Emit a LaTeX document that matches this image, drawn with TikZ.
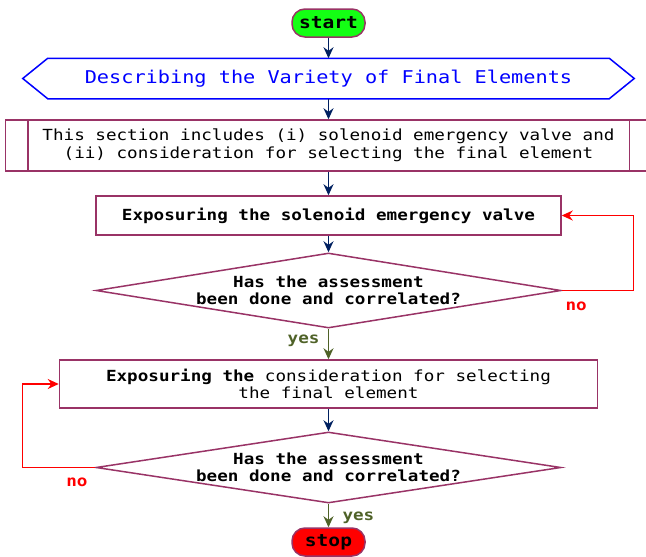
\documentclass[tikz,border=0pt]{standalone}
\usepackage{fontspec}
\newfontfamily\flowfont{DejaVu Sans Mono}[FakeStretch=1.15]
\usetikzlibrary{shapes.geometric,arrows.meta,positioning}
\definecolor{boxborder}{RGB}{153,51,102}
\definecolor{arrownavy}{RGB}{0,32,96}
\definecolor{yesgreen}{RGB}{79,98,40}
\definecolor{termgreen}{RGB}{20,255,20}
\newcommand{\smallfont}{\flowfont\fontsize{15.3}{17.5}\selectfont}
\newcommand{\bigfont}{\flowfont\fontsize{17.6}{20}\selectfont}

\begin{document}
\begin{tikzpicture}[x=1pt,y=1pt,>={Stealth[length=11pt,width=10pt]},line width=1.5pt,font=\smallfont,
  term/.style={rectangle,rounded corners=13pt,draw=boxborder,minimum width=73pt,minimum height=28pt,inner sep=0pt,font=\flowfont\bfseries\fontsize{17}{20}\selectfont},
  process/.style={rectangle,draw=boxborder,align=center,inner sep=0pt},
  decision/.style={diamond,draw=boxborder,aspect=6.2,inner sep=-2pt,align=center,font=\smallfont\bfseries,minimum width=465pt,minimum height=75pt},
  flow/.style={->,draw=arrownavy,line width=1.4pt},
  yesflow/.style={->,draw=yesgreen,line width=1.4pt},
  noflow/.style={->,draw=red,line width=1.4pt},
  yeslabel/.style={text=yesgreen,font=\smallfont\bfseries},
  nolabel/.style={text=red,font=\smallfont\bfseries}]
\useasboundingbox (0,0) rectangle (646,-557);
\node[term,fill=termgreen] (start) at (328.5,-23) {start};
\node[minimum width=610pt,minimum height=39pt,inner sep=0pt,text=blue,font=\bigfont] (describe) [below of=start,node distance=55.5pt] {Describing the Variety of Final Elements};
\node[process,minimum width=646pt,minimum height=51pt] (intro) [below of=describe,node distance=67pt] {This section includes (i) solenoid emergency valve and\\(ii) consideration for selecting the final element};
\node[process,minimum width=465pt,minimum height=39pt,font=\smallfont\bfseries] (expose1) [below of=intro,node distance=70pt] {Exposuring the solenoid emergency valve};
\node[decision] (check1) [below of=expose1,node distance=75pt] {Has the assessment\\been done and correlated?};
\node[process,minimum width=538pt,minimum height=48pt] (expose2) [below of=check1,node distance=93.5pt] {\textbf{Exposuring the} consideration for selecting\\the final element};
\node[decision,minimum height=71pt] (check2) [below of=expose2,node distance=83.5pt] {Has the assessment\\been done and correlated?};
\node[term,fill=red] (stop) [below of=check2,node distance=74.5pt] {stop};

% hexagon and side bars
\draw[blue,line width=1.5pt] (describe.west) -- ([xshift=25pt]describe.north west) -- ([xshift=-25pt]describe.north east) -- (describe.east)
  -- ([xshift=-25pt]describe.south east) -- ([xshift=25pt]describe.south west) -- cycle;
\draw[boxborder] ([xshift=23pt]intro.north west) -- ([xshift=23pt]intro.south west)
  ([xshift=-23pt]intro.north east) -- ([xshift=-23pt]intro.south east);

\draw[flow] (start) -- (describe);
\draw[flow] (describe) -- (intro);
\draw[flow] (intro) -- (expose1);
\draw[flow] (expose1) -- (check1);
\draw[yesflow] (check1) -- node[yeslabel,left,pos=0.4,xshift=-5pt] {yes} (expose2);
\draw[flow] (expose2) -- (check2);
\draw[yesflow] (check2) -- node[yeslabel,right,pos=0.6,xshift=10pt] {yes} (stop);
\draw[noflow] (check1.east) -- node[nolabel,below,pos=0.2,yshift=-7pt] {no} ++(72,0) |- (expose1.east);
\draw[noflow] (check2.west) -- node[nolabel,below,pos=0.25,yshift=-6pt] {no} ++(-73,0) |- (expose2.west);
\end{tikzpicture}
\end{document}
